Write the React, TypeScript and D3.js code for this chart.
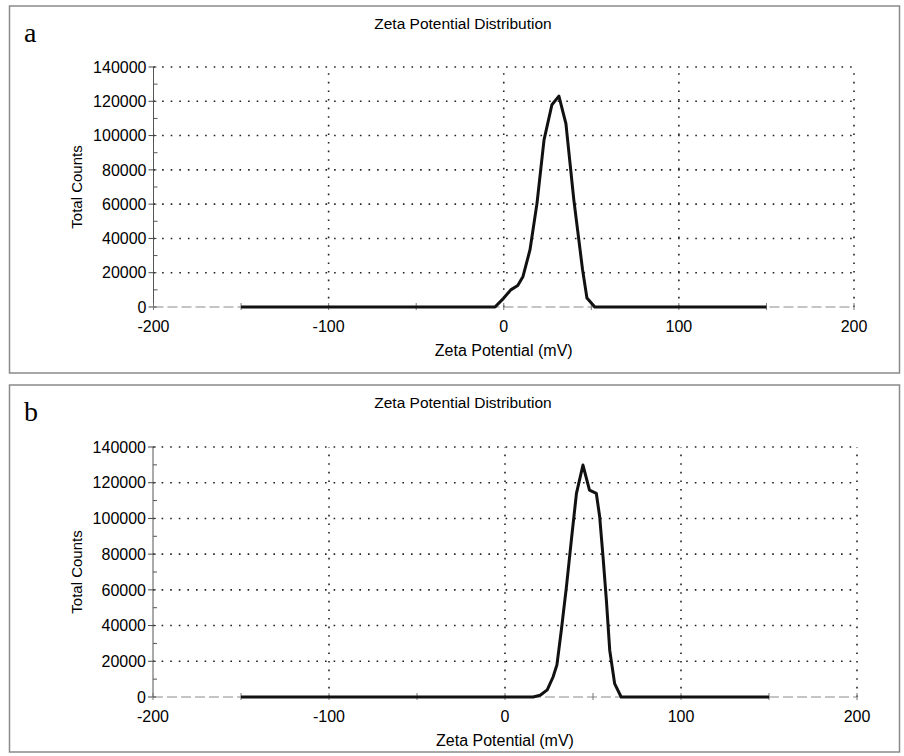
import React from 'react';
import * as d3 from 'd3';

// zeta potential (mV) / total counts
const zetaA = [-150, -5, 0, 4, 8, 11, 15, 19, 23, 27.5, 31.5, 35.5, 40, 45, 47.5, 52, 150];
const countsA = [0, 0, 5200, 10000, 12500, 17800, 33400, 60600, 97500, 118000, 123000, 107000, 62600, 21800, 5300, 0, 0];

const zetaB = [-150, 16, 20, 24, 27.3, 29.5, 32, 34.9, 37.7, 40.6, 44.3, 48, 51.9, 53.8, 55.7, 57.6, 59.5, 62.3, 66, 150];
const countsB = [0, 0, 950, 4000, 11200, 18000, 37400, 61700, 87900, 114000, 129900, 115900, 114000, 100900, 78500, 54200, 26200, 7500, 0, 0];

const xTicks = [-200, -100, 0, 100, 200];
const xMinor = [-200, -150, -100, -50, 0, 50, 100, 150, 200];
const yTicks = [0, 20000, 40000, 60000, 80000, 100000, 120000, 140000];
const yMinor = [10000, 30000, 50000, 70000, 90000, 110000, 130000];

const font = '"Liberation Sans", Arial, sans-serif';

function Panel({ top, letter, zeta, counts, x0, x1, yTop, yBottom }: any) {
  const x = d3.scaleLinear().domain([-200, 200]).range([x0, x1]);
  const y = d3.scaleLinear().domain([0, 140000]).range([yBottom, yTop]);
  const pts = zeta.map((z: number, i: number) => [z, counts[i]] as [number, number]);
  const line = d3.line<[number, number]>().x(d => x(d[0])).y(d => y(d[1]));
  const dots = { stroke: '#222', strokeWidth: 1.6, strokeDasharray: '1.6,7' };
  const cx = (x0 + x1) / 2;

  return (
    <g>
      <rect x={9.5} y={top} width={890} height={367} fill="#fff" stroke="#8a8a8a" strokeWidth={1.5} />
      <text x={24} y={top + 36} fontFamily='"Liberation Serif", "Times New Roman", serif' fontSize={28}>{letter}</text>
      <text x={463} y={top + 23} textAnchor="middle" fontFamily={font} fontSize={15.5}>Zeta Potential Distribution</text>

      {/* dotted grid */}
      {yTicks.filter(t => t > 0).map(t => (
        <line key={'h' + t} x1={x(-200)} x2={x(200)} y1={y(t)} y2={y(t)} {...dots} />
      ))}
      {xTicks.filter(t => t > -200).map(t => (
        <line key={'v' + t} x1={x(t)} x2={x(t)} y1={y(0)} y2={y(140000)} {...dots} />
      ))}

      {/* axes */}
      <line x1={x(-200)} x2={x(200)} y1={y(0)} y2={y(0)} stroke="#8a8a8a" strokeWidth={1} strokeDasharray="10,4" />
      <line x1={x(-200)} x2={x(-200)} y1={y(0)} y2={y(140000)} stroke="#555" strokeWidth={1} />
      {yTicks.map(t => (
        <line key={'yt' + t} x1={x(-200) - 5} x2={x(-200) + 3} y1={y(t)} y2={y(t)} stroke="#444" />
      ))}
      {yMinor.map(t => (
        <line key={'ym' + t} x1={x(-200)} x2={x(-200) + 4} y1={y(t)} y2={y(t)} stroke="#555" />
      ))}
      {xMinor.map(t => (
        <line key={'xm' + t} x1={x(t)} x2={x(t)} y1={y(0) - 4} y2={y(0) + 3} stroke="#777" />
      ))}

      {yTicks.map(t => (
        <text key={'yl' + t} x={x(-200) - 7} y={y(t)} dy="0.36em" textAnchor="end" fontFamily={font} fontSize={16}>{t}</text>
      ))}
      {xTicks.map(t => (
        <text key={'xl' + t} x={x(t)} y={y(0) + 25} textAnchor="middle" fontFamily={font} fontSize={16}>{t}</text>
      ))}
      <text x={cx} y={y(0) + 49} textAnchor="middle" fontFamily={font} fontSize={16}>Zeta Potential (mV)</text>
      <text transform={`translate(82,${(yTop + yBottom) / 2}) rotate(-90)`} textAnchor="middle" fontFamily={font} fontSize={15}>Total Counts</text>

      <path d={line(pts) || ''} fill="none" stroke="#111" strokeWidth={3} strokeLinejoin="round" />
    </g>
  );
}

export default function App() {
  return (
    <svg width={904} height={756} style={{ position: 'absolute', left: 0, top: 0, background: '#fff' }}>
      <rect width={904} height={756} fill="#fff" />
      <Panel top={6} letter="a" zeta={zetaA} counts={countsA} x0={153.5} x1={854} yTop={67} yBottom={307} />
      <Panel top={385} letter="b" zeta={zetaB} counts={countsB} x0={153} x1={857} yTop={447} yBottom={697} />
    </svg>
  );
}
